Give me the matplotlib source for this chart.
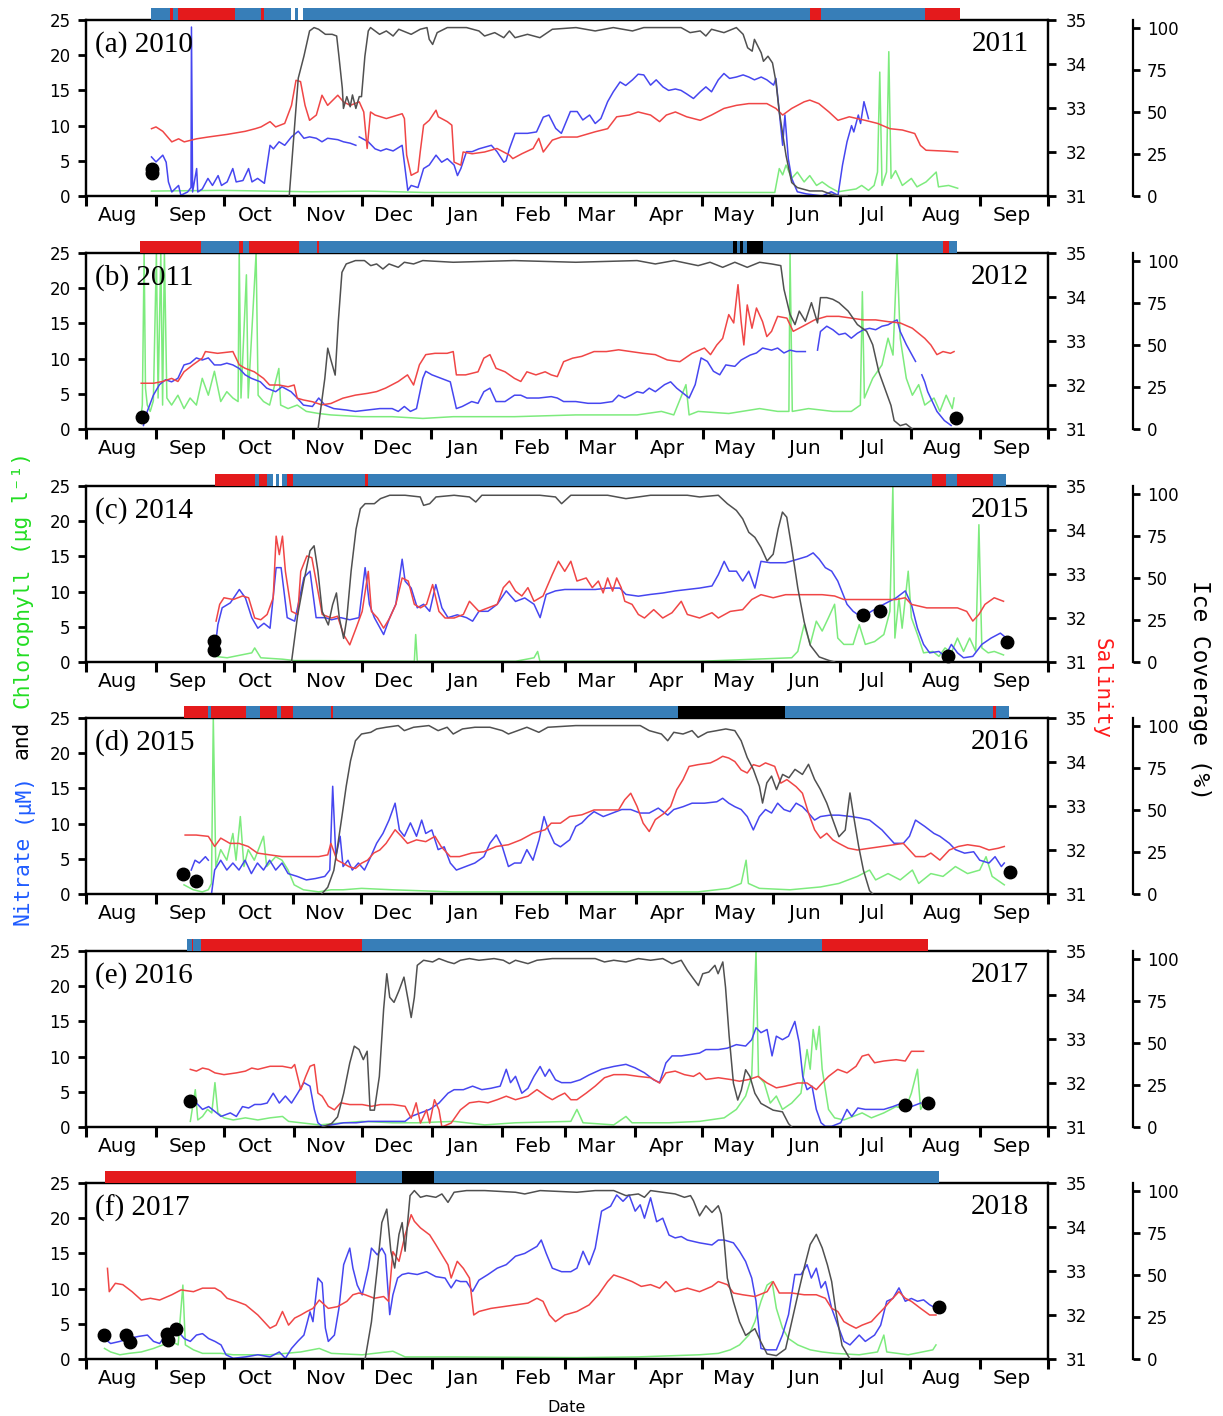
import numpy as np
import matplotlib
matplotlib.use('Agg')
import matplotlib.pyplot as plt
import matplotlib.dates as mdates
from matplotlib.ticker import NullFormatter

nan = float('nan')

# days since 1 Aug of the first year, value
years = [2010, 2011, 2014, 2015, 2016, 2017]
labels = ['(a)', '(b)', '(c)', '(d)', '(e)', '(f)']

## PANEL A ##
a_ice = [(90,0),(94,70),(96.5,83),(99,98),(101,100),(103,99),(106,96),(109,96),(111,95),(112,83),(113.5,64),(114,52),(115.5,59),(117,53),(118,60),(119.5,52),(121,59),(122,59),(123.5,83),(125,98),(126,100),(130,96),(133,98),(136,95),(138.5,99),(144,96),(148,99),(151,100),(152,93),(153.5,90),(155.5,97),(160,100),(168.5,100),(174,98),(176.5,95),(181,97),(185,94),(187.5,98),(190,94),(195.5,96),(201,94),(206.5,99),(217,100),(225.5,98),(233.5,100),(242,98),(247,100),(263.5,100),(267.5,97),(272,98),(274.5,95),(277,99),(282.5,97),(288,100),(291,96),(293,88),(295,86),(296,93),(299,85),(300,80),(302,83),(304,79),(305.5,68),(307,50),(310,24),(312.5,8),(315,5),(320.5,3),(326,3),(330,1),(334,0),(337,0)]
a_sal = [(29,32.53),(31,32.57),(34,32.47),(38,32.23),(41,32.3),(43.5,32.23),(49,32.3),(54,32.34),(62.5,32.4),(70.5,32.47),(75,32.53),(77.5,32.57),(81.5,32.69),(84,32.57),(88,32.65),(91,33.06),(93,33.63),(95,33.6),(97,33.06),(99,32.72),(102,32.84),(104.5,33.29),(107,33.06),(111.5,33.29),(114,33.14),(117,33.06),(121,33.14),(123,32.91),(124.5,32.08),(126,32.91),(128,32.84),(133,32.76),(140,32.87),(141,32.76),(142,31.93),(144,31.47),(147,31.55),(148,32.0),(149.5,32.61),(152,32.72),(155,32.95),(156,32.8),(160,32.69),(162,32.61),(163,31.77),(166,31.7),(167,32.0),(171,31.96),(176.5,32.0),(182,32.08),(187.5,31.93),(189,31.85),(193,31.96),(198,32.08),(200.5,32.31),(202.5,32.0),(206.5,32.27),(210.5,32.34),(217.5,32.34),(225.5,32.46),(231,32.53),(235,32.8),(240.5,32.84),(244.5,32.91),(250,32.84),(254,32.69),(257,32.84),(261,32.91),(266,32.8),(272,32.72),(277,32.84),(282.5,32.99),(288,33.06),(293.5,33.1),(301.5,33.1),(305.5,32.99),(308.5,32.84),(312.5,32.99),(318,33.14),(320.5,33.18),(324.5,33.1),(329,32.91),(333,32.72),(338,32.8),(345,32.72),(350.5,32.65),(356,32.53),(361.5,32.5),(367,32.42),(369.5,32.15),(372,32.04),(380.5,32.02),(386,32.0)]
a_no3 = [(29,5.55),(31,4.84),(34,5.8),(35.5,4.8),(36.5,2.0),(38,0.57),(41,1.5),(42,0.1),(45,0.57),(46.5,1.2),(46.7,24),(47.2,0.57),(49,3.9),(49.5,0.57),(51.5,1.0),(54,2.5),(56,1.5),(58.5,2.9),(60,1.5),(62.5,2.0),(65,3.9),(66.5,2.0),(69.5,2.2),(72,3.9),(73.5,2.0),(76,2.5),(79,1.8),(81.5,7.2),(83,6.7),(85.5,7.7),(88,7.2),(91,8.4),(94,9.2),(96.5,8.2),(99,8.4),(102,8.2),(104.5,7.7),(107,8.2),(111.5,8.0),(114,7.7),(117,7.5),(119.5,7.2),(120.3,nan),(121,8.4),(125,7.7),(128,6.7),(130.5,6.4),(133,6.7),(136,6.4),(140,7.2),(141.5,3.4),(142.5,0.8),(144,1.5),(147,1.2),(149.5,3.9),(152,4.4),(155,5.8),(157.5,4.8),(160,5.3),(163,4.4),(164.5,2.9),(166,3.9),(168.5,6.3),(171,6.3),(174,6.7),(179.5,7.2),(182,6.3),(185,4.8),(186,5.0),(187.5,6.7),(190,8.9),(195.5,8.9),(199.5,9.1),(202.5,11.2),(205,11.5),(208,9.6),(210.5,8.9),(214.5,12),(217.5,12),(220,10.8),(223,11.5),(225.5,10.3),(228,11.0),(231,13.4),(233.5,14.8),(236.5,16.2),(239,15.7),(242,16.5),(244.5,17.3),(247,17.2),(250,15.75),(252.5,16.5),(255.5,15.5),(258,15.0),(261,15.2),(263.5,15.0),(266,14.5),(269,13.85),(272,14.8),(274.5,15.5),(277,14.8),(280,16.5),(282.5,17.4),(285,16.7),(288,16.9),(291,17.2),(293.5,16.9),(296,16.5),(299,16.9),(301.5,16.5),(304.5,15.75),(305.5,16.7),(307,12),(308.5,7.2),(309.5,11.5),(311,5.3),(312.5,2.5),(315,0.6),(319,0.3),(326,0),(330,0.6),(333,0.1),(335,4.4),(337,7.7),(339,10),(340,9.1),(342,11.5),(343,10.3),(344.5,13.4),(346.5,11.0)]
a_chl = [(29,0.7),(60,0.8),(100,0.6),(125,0.7),(150,0.5),(200,0.5),(250,0.5),(300,0.5),(305,0.5),(307,3.9),(308.5,3.0),(310,4.4),(312.5,2.5),(315,3.4),(318,2.0),(320.5,2.9),(323.5,1.5),(326,2.0),(329,1.3),(333,0.6),(337,0.8),(341,1.0),(343.5,1.5),(346.5,0.8),(349,1.5),(350.5,3.4),(351.5,17.6),(352.5,1.5),(354.5,3.4),(355.5,20.5),(356.5,2.5),(358.5,3.6),(361.5,1.5),(365.5,2.5),(368,1.3),(372,2.0),(376.5,3.4),(377.5,1.3),(382,1.5),(386,1.1)]
a_dots = [(29.2,3.9),(29.2,3.2)]
a_bar = [(29,37,'b'),(37,38.6,'r'),(38.6,40.8,'b'),(40.8,65.8,'r'),(65.8,77.4,'b'),(77.4,78.8,'r'),(78.8,91,'b'),(91,92.4,'w'),(92.4,93.8,'b'),(93.8,96,'w'),(96,320.7,'b'),(320.7,325.3,'r'),(325.3,371.5,'b'),(371.5,387.2,'r')]

## PANEL B ##
b_ice = [(103,0),(106,30),(107.3,48),(108.7,41),(110.6,32),(112,64),(113.6,93),(115.5,98),(119.6,100),(123.6,100),(126.4,97),(129,98),(131.8,95),(134.5,98),(138.6,96),(141.3,99),(145.4,98),(149.5,100),(163,99),(190,100),(217.4,99),(244.6,100),(252.7,98),(261,100),(271.7,97),(277,99),(282.6,96),(288,99),(293.5,96),(299,99),(304.3,98),(308.4,97),(309.8,83),(312.5,68),(314.7,62),(316.6,70),(319.3,64),(322,75),(324.7,63),(326,78),(328.8,78),(331.5,77),(334.2,75),(338.3,70),(342.4,62),(346.5,58),(349.2,50),(351.9,34),(354.6,24),(357.3,14),(358.7,5),(361.4,2),(364,3),(366.8,0)]
b_sal = [(24.5,32.04),(30,32.04),(34,32.08),(38,32.15),(40.8,32.08),(43.5,32.3),(47.5,32.46),(51.6,32.61),(53,32.76),(58.4,32.72),(65.2,32.76),(68,32.46),(70.6,32.38),(74.7,32.3),(78.8,32.15),(81.5,32.0),(85.6,32.0),(89.7,31.96),(92.4,32.0),(93.75,31.7),(96.5,31.66),(100.5,31.62),(104.6,31.55),(108.7,31.58),(114,31.7),(119.6,31.77),(125,31.81),(129,31.85),(133,31.93),(138.6,32.08),(142.7,32.23),(145.4,32.0),(148,32.46),(150.8,32.69),(154.9,32.72),(160.3,32.72),(163,32.76),(164.4,32.23),(168.5,32.23),(174,32.3),(176.6,32.61),(179.3,32.69),(182,32.38),(186,32.3),(190.2,32.15),(193,32.08),(195.7,32.3),(199.7,32.23),(203.8,32.3),(206.5,32.23),(209.2,32.19),(212,32.53),(216,32.61),(220,32.65),(225.5,32.76),(231,32.76),(236.4,32.8),(241.8,32.76),(247.3,32.72),(252.7,32.69),(258,32.57),(263.6,32.53),(269,32.72),(274.5,32.84),(277.2,32.69),(280,32.91),(282.6,33.06),(285.3,33.6),(287.5,33.41),(289.4,34.28),(290.8,33.44),(292,32.91),(293.5,33.82),(295.6,33.29),(297.6,33.75),(300.3,33.44),(302.2,33.1),(304.3,33.22),(307,33.56),(311.1,33.52),(313.9,33.22),(318,33.33),(323.4,33.48),(328.8,33.56),(334.2,33.56),(339.7,33.52),(345.1,33.48),(350.5,33.48),(356,33.44),(361.4,33.41),(366.8,33.29),(372.3,33.06),(375,32.91),(377.7,32.69),(380.4,32.76),(383.7,32.72),(385.3,32.76)]
b_no3 = [(25.5,0.5),(27.2,2.5),(29.9,4.8),(32.6,6.3),(35.3,7.0),(38,6.7),(40.8,7.2),(43.5,9.1),(46.2,9.35),(49,10.1),(51.6,9.8),(54.3,10.1),(57,9.1),(59.8,9.1),(62.5,9.35),(65.2,9.1),(68,8.6),(70.6,7.7),(73.4,7.2),(77.4,6.7),(80.2,5.8),(84.2,5.3),(87,6.0),(91,5.3),(93.75,4.4),(96.5,3.4),(100.5,3.2),(103.3,4.4),(106,3.4),(110,2.9),(115.5,2.7),(119.6,2.5),(125,2.7),(130.4,2.9),(135.9,2.9),(138.6,2.5),(141.3,3.2),(144,2.5),(146.7,2.9),(149.5,7.2),(150.8,8.2),(153.5,7.7),(157.6,7.2),(161.7,6.7),(164.4,2.9),(167,3.2),(171.2,3.9),(174,3.65),(176.6,5.3),(179.3,5.8),(182,3.9),(186,3.9),(190.2,4.8),(193,4.8),(195.7,4.4),(201,4.4),(206.5,4.6),(209.2,4.4),(212,3.9),(217.4,3.9),(222.8,3.65),(228.3,3.65),(233.7,3.9),(236.4,4.8),(239.1,4.4),(241.8,4.8),(244.6,5.3),(247.3,5.1),(250,5.8),(252.7,5.3),(256.8,6.3),(259.5,6.7),(262.2,5.8),(265,5.1),(267.7,4.4),(270.4,6.3),(273,10.1),(275.8,9.6),(278.5,8.2),(281.3,7.7),(284,9.1),(288,8.9),(290.8,9.8),(294.8,10.5),(297.6,10.8),(300.3,11.5),(304.3,11.2),(307,11.5),(309.8,10.8),(312.5,11.2),(315.2,11.0),(319.3,11.0),(321,nan),(324.7,11.2),(326,13.85),(328.8,14.6),(331.5,14.1),(334.2,13.4),(337,13.6),(339.7,12.9),(342.4,13.6),(345.1,14.1),(347.8,14.3),(350.5,14.1),(353.3,14.6),(356,14.8),(358.7,15.3),(360,15.5),(361.4,13.85),(364.1,12),(368.2,9.6),(369.5,nan),(371,7.7),(372.3,6.7),(373.6,5.3),(376.4,3.4),(377.7,2.5),(381,1.2),(384,0.5)]
b_chl = [(24.5,2.0),(25,3.4),(25.8,25),(26.4,5.8),(27.2,3.4),(28.5,2.5),(29.9,4.0),(31.25,25),(32,4.4),(33.2,25),(34,3.4),(34.8,25),(35.9,4.4),(38,3.4),(40.8,4.8),(43.5,2.9),(46.2,4.4),(49,3.4),(51.6,7.2),(54.3,4.8),(57,8.2),(59.8,3.9),(62.5,5.3),(65.2,4.4),(67.5,3.9),(68,25),(68.8,4.4),(71.2,21.9),(72,4.4),(75.5,25),(76.4,4.8),(78.8,3.9),(81.5,3.4),(85.6,8.6),(86.4,3.4),(89.7,2.9),(93.75,3.4),(97.8,2.5),(103.3,2.2),(108.7,2.0),(122.3,1.75),(135.9,1.75),(149.5,1.5),(163,1.75),(190.2,1.75),(217.4,2.0),(244.6,2.0),(255.4,2.5),(260.9,2.0),(266.3,6.3),(267.7,2.0),(271.7,2.5),(285.3,2.2),(299,2.9),(307,2.5),(312,2.5),(312.5,25),(313.5,2.5),(320.7,2.9),(331.5,2.5),(339.7,2.5),(343.7,3.4),(344.6,19.5),(345.5,4.4),(349.2,7.2),(353.3,9.1),(356,12.9),(358.2,10.5),(360,25),(361.4,12.9),(364.1,7.2),(366.8,4.8),(369.6,6.3),(372.3,3.4),(376.4,4.4),(379,2.5),(381.8,4.8),(384.5,2.9),(385.3,4.4)]
b_dots = [(24.8,1.7),(386,1.6)]
b_bar = [(24,51,'r'),(51,68,'b'),(68,69.5,'r'),(69.5,72.3,'b'),(72.3,94.6,'r'),(94.6,102.7,'b'),(102.7,103.5,'r'),(103.5,287.2,'b'),(287.2,288.9,'k'),(288.9,290.2,'b'),(290.2,291.8,'k'),(291.8,293.5,'b'),(293.5,300.3,'k'),(300.3,380.4,'b'),(380.4,383.2,'r'),(383.2,386.4,'b')]

## PANEL C ##
c_ice = [(91,0),(93.75,28),(96.5,48),(99.2,66),(101,69),(102.7,54),(104.6,30),(107.3,22),(109.2,34),(110.9,41),(112.2,26),(114.1,14),(115.5,26),(117.4,54),(119.6,79),(121.5,91),(123.6,94),(127.7,94),(130.4,97),(134.5,99),(141.3,99),(148,98),(149.5,93),(152.2,94),(155,98),(163,99),(169.8,98),(172.6,95),(175.3,99),(190.2,99),(201,99),(207.9,98),(210.6,94),(214.7,99),(231,99),(239.1,97),(244.6,98),(250,99),(266.3,99),(271.7,98),(280,99),(284,94),(288,90),(290.8,85),(293.5,77),(296.2,74),(298.9,68),(301.6,60),(304.3,64),(306.5,79),(308.4,89),(310.3,86),(312.5,68),(315.2,44),(318,24),(320.7,10),(324.7,3),(328.8,1),(331.5,0)]
c_sal = [(57.6,31.93),(59.2,32.31),(61.1,32.46),(65.2,32.42),(69.3,32.5),(72,32.46),(74.7,32.0),(77.4,31.96),(80.2,32.08),(82.9,32.46),(84.2,33.86),(85.6,33.44),(87,33.86),(88.3,33.06),(91,32.15),(93.75,32.08),(95.1,33.06),(97.8,33.41),(100,33.37),(101.9,32.84),(104.6,32.08),(108.7,32.0),(111.4,32.04),(114.1,31.62),(116.8,31.39),(119.6,31.77),(122.3,32.15),(125,33.06),(126.4,32.15),(129.1,32.0),(131.8,31.77),(134.5,32.0),(137.2,32.31),(140,32.91),(142.7,32.84),(145.4,32.31),(148.1,32.23),(150.8,32.31),(153.5,32.76),(156.3,32.15),(159,32.0),(163,32.0),(167.1,32.08),(169.8,32.38),(174,32.15),(178,32.23),(182.1,32.31),(184.8,32.69),(187.5,32.84),(190.2,32.61),(193,32.5),(195.7,32.69),(198.4,32.38),(202.4,32.5),(206.5,32.99),(209.2,33.29),(212,33.06),(214.7,33.29),(217.4,32.84),(221.5,32.91),(224.2,32.69),(226.9,32.84),(229,32.57),(231,32.91),(233.2,32.61),(235,32.91),(237,32.69),(238.6,32.38),(241.8,32.31),(244.6,32.08),(247.3,32.0),(251.4,32.19),(255.4,32.0),(259.5,32.12),(263.6,32.38),(266.3,32.08),(271.7,32.0),(277.2,32.12),(280,32.0),(285.3,32.15),(290.8,32.19),(294.8,32.42),(298.9,32.53),(304.3,32.46),(309.8,32.53),(318,32.53),(326,32.53),(331.5,32.5),(335.6,32.42),(342.4,32.42),(350.5,32.42),(358.7,32.42),(362.8,32.46),(365.5,32.31),(372.3,32.23),(377.7,32.23),(385.9,32.23),(390,32.15),(392.7,31.93),(395.4,32.08),(398.1,32.31),(402.2,32.46),(406.3,32.38)]
c_no3 = [(57,1.5),(58.4,5.3),(60.3,7.7),(63.9,8.4),(67.9,10.3),(70.6,9.1),(73.4,6.3),(76.1,4.8),(78.8,5.5),(81.5,4.8),(84.2,13.4),(86.4,13.4),(89.1,6.3),(92.4,5.8),(96.5,12),(99.2,12.9),(101.9,6.3),(106,6.3),(108.7,6.0),(112.8,6.3),(116.8,6.0),(120.9,6.3),(123.6,13.4),(125.5,8.2),(127.7,6.3),(131.8,3.9),(134.5,6.3),(137.2,8.2),(140,14.6),(141.3,11.5),(144,10.5),(146.7,7.7),(149.5,8.2),(152.2,7.2),(154.9,11.0),(157.6,7.7),(160.3,6.3),(164.4,6.7),(168.5,6.3),(171.2,5.8),(174,7.2),(178,7.2),(182.1,8.2),(186.1,10.1),(190.2,8.6),(194.3,9.1),(198.4,8.2),(201.1,6.3),(203.8,9.6),(207.9,10.1),(212,10.3),(217.4,10.3),(225.5,10.3),(231,10.5),(236.4,10.5),(239.1,9.6),(244.6,9.35),(250,9.6),(255.4,9.8),(261,10.1),(266.3,10.3),(271.7,10.5),(277.2,10.8),(280,12.4),(282.6,14.3),(284.8,12.9),(288,12.9),(290.8,11.5),(293.5,12.9),(296.2,10.5),(298.9,14.3),(303,14.1),(309.8,14.1),(315.2,14.6),(319.3,15.0),(322,15.5),(324.7,14.6),(327.4,13.4),(330.2,12.9),(332.9,11.5),(337,8.2),(339.7,7.2),(343.7,6.3),(347.8,7.2),(353.3,8.2),(358.7,9.1),(362.8,10.1),(365.5,8.2),(368.2,4.8),(370.9,2.5),(373.6,1.3),(377.7,1.5),(380.4,0.8),(383.2,2.5),(385.9,1.3),(388.6,0.6),(392.7,0.8),(396.7,2.5),(400.8,3.4),(404.9,4.1),(407.6,3.4)]
c_chl = [(57,0.8),(62.5,0.6),(73.4,1.3),(74.7,2.0),(77.4,0.6),(87,0.4),(92.4,0.2),(103.3,0.2),(145.4,0.1),(146,3.9),(146.7,0.1),(190.2,0.1),(198.4,0.6),(200,1.5),(201,0.1),(271.7,0.1),(312.5,0.6),(315.2,1.5),(316.6,3.4),(318,5.3),(320.7,2.5),(323.4,5.8),(326,4.4),(328.8,6.3),(331.5,8.2),(332.9,3.4),(335.6,2.5),(339.7,2.5),(342.4,5.3),(345.1,2.5),(349.2,2.9),(353.3,3.9),(356,7.2),(357.3,25),(358.2,3.4),(360,9.1),(361.4,4.8),(364.1,12.9),(365.5,6.3),(368.2,3.9),(370.9,1.3),(375,1.5),(377.7,0.8),(380.4,2.0),(383.2,1.3),(385.9,3.4),(388.6,1.5),(391.3,3.4),(394,1.5),(395.4,19.5),(396.7,2.0),(399.5,1.3),(402.2,1.5),(406.3,1.0)]
c_dots = [(56.7,3.0),(56.7,1.7),(344,6.7),(351.6,7.3),(381.7,0.85),(408,2.9)]
c_bar = [(57,74.7,'r'),(74.7,76.6,'b'),(76.6,80.2,'r'),(80.2,82.9,'b'),(82.9,84.2,'w'),(84.2,85.6,'b'),(85.6,87,'w'),(87,89.1,'b'),(89.1,91.8,'r'),(91.8,123.6,'b'),(123.6,125,'r'),(125,374.5,'b'),(374.5,381,'r'),(381,385.9,'b'),(385.9,401.6,'r'),(401.6,407.6,'b')]

## PANEL D ##
d_ice = [(104.6,0),(107.3,4),(110,14),(111.4,26),(113.6,46),(115.5,64),(117.4,79),(119.6,91),(122.3,95),(126.4,96),(129,98),(133.2,99),(138.6,100),(141.3,97),(145.4,99),(152.2,100),(156.3,97),(160.3,99),(163,95),(167.1,98),(172.6,99),(179.3,99),(184.8,97),(187.5,95),(191.6,97),(195.7,99),(201,96),(205,99),(217.4,100),(246,100),(250,97),(255.4,95),(258.2,91),(260.9,96),(265,95),(269,97),(271.7,93),(275.8,96),(280,97),(284,98),(288,97),(290.8,91),(293.5,81),(296.2,74),(298.9,64),(300.3,54),(302.2,66),(304.3,70),(306.5,62),(309.2,71),(312,69),(314.7,74),(318,71),(320.7,77),(323.4,68),(326,62),(328.8,54),(331.5,44),(334.2,34),(337,38),(339.1,60),(341,44),(343,28),(345.1,14),(347.8,2),(349.2,0)]
d_sal = [(44,32.34),(48.9,32.34),(54.3,32.31),(57.1,32.08),(59.8,32.27),(63.9,32.15),(67.9,32.15),(72,32.08),(76.1,31.93),(81.5,31.89),(87,31.85),(92.4,31.85),(97.8,31.85),(103.3,31.85),(107.3,31.89),(108.7,32.15),(111.4,31.77),(114.1,31.7),(116.8,31.62),(119.6,31.58),(122.3,31.7),(125,31.77),(127.7,31.93),(130.4,32.0),(133.2,32.15),(137.2,32.46),(140,32.31),(142.7,32.15),(146.7,32.23),(150.8,32.19),(154.9,32.31),(157.6,32.08),(161.7,31.85),(165.8,31.85),(171.2,31.93),(176.6,31.96),(182.1,32.08),(187.5,32.12),(193,32.23),(198.4,32.38),(203.8,32.46),(206.5,32.61),(210.6,32.61),(214.7,32.76),(220.1,32.8),(225.5,32.91),(231,32.91),(236.4,32.91),(239.1,33.14),(241.8,33.29),(244.6,32.99),(247.3,32.61),(250,32.42),(252.7,32.69),(256.8,32.84),(259.5,32.99),(262.2,33.37),(265,33.6),(267.7,33.9),(271.7,33.94),(277.2,33.98),(280,34.05),(282.6,34.13),(285.3,34.09),(288,34.01),(290.8,33.82),(293.5,33.75),(296.2,33.94),(298.9,33.9),(301.6,33.98),(305.7,33.9),(308.4,33.52),(311.1,33.6),(315.2,33.44),(318,33.29),(320.7,32.84),(323.4,32.46),(326,32.27),(328.8,32.38),(331.5,32.23),(334.2,32.15),(338.3,32.04),(342.4,32.0),(347.8,32.04),(353.3,32.08),(358.7,32.12),(362.8,32.15),(365.5,32.0),(368.2,31.85),(372.3,31.85),(375,31.93),(379,31.77),(383.2,32.0),(387.2,32.08),(391.3,32.12),(396.7,32.08),(400.8,32.0),(404.9,32.04),(407.6,32.08)]
d_no3 = [(46.7,3.4),(48.4,4.8),(50.3,4.4),(53,5.3),(54.3,4.8),(55,nan),(55.7,0),(57.1,3.4),(59.8,4.8),(62.5,3.4),(65.2,4.4),(67.9,3.4),(70.6,4.8),(73.4,2.9),(76.1,4.4),(78.8,3.4),(81.5,4.8),(84.2,3.4),(87,4.4),(89.7,2.9),(93.75,2.5),(97.8,2.0),(101.9,2.2),(106,2.5),(108.2,3.4),(109.5,15.3),(110.9,5.3),(112.8,8.2),(114.1,3.9),(116.3,4.8),(118.2,3.4),(120.9,4.4),(123.6,3.4),(126.4,5.3),(129,7.2),(131.8,8.6),(134.5,10.5),(137.2,12.9),(139.1,9.1),(141.3,8.2),(144,10.1),(146.7,8.2),(149,10.5),(150.8,8.6),(153.5,9.1),(156.3,6.3),(159,6.7),(161.7,4.4),(164.4,3.4),(168.5,3.9),(172.6,4.4),(176.6,5.3),(179.3,7.2),(182.1,8.4),(184.8,6.7),(187.5,3.9),(190.2,4.4),(193,4.4),(195.7,6.3),(198.4,4.8),(201.1,7.7),(203.3,11.0),(205.2,9.1),(207.9,7.2),(210.6,6.7),(214.7,7.7),(217.4,9.6),(220.1,10.1),(222.8,11.0),(225.5,11.7),(229.6,11.0),(233.7,11.5),(237.8,12.0),(241.8,12.0),(245.9,11.5),(250,11.5),(254,12.2),(258.2,11.2),(260.9,12.0),(265,12.4),(269,12.9),(274.5,12.9),(280,13.1),(282.6,13.6),(285.3,12.9),(288,12.4),(290.8,12.0),(293.5,11.0),(296.2,9.1),(298.9,11.0),(301.6,12.0),(304.3,11.5),(307,12.9),(309.8,12.0),(312.5,11.7),(315.2,12.9),(318,12.4),(320.7,11.5),(323.4,10.5),(326,11.0),(330.2,11.2),(334.2,11.2),(339.7,11.0),(343.7,10.8),(347.8,10.5),(353.3,9.1),(358.7,7.2),(362.8,7.2),(365.5,8.2),(368.2,10.5),(372.3,9.6),(376.4,8.6),(379,8.2),(383.2,7.2),(385.9,6.3),(390,5.8),(394,6.0),(396.7,4.8),(400.8,4.4),(403.5,5.3),(406.3,3.9),(407.6,4.4)]
d_chl = [(43.5,1.3),(47.6,0.6),(51.6,0.3),(54.3,0.6),(55.7,1.5),(56.5,25),(57.6,3.9),(59.8,6.3),(62.5,4.8),(65.2,8.6),(66.6,4.8),(68.5,11.0),(70.1,3.9),(72,6.3),(74.7,4.8),(78.8,8.2),(80.2,3.9),(84.2,5.3),(87,4.8),(89.7,3.4),(92.4,1.3),(96.5,0.6),(103.3,0.3),(108.7,0.6),(114.1,0.6),(122.3,0.8),(135.9,0.6),(163,0.3),(190.2,0.3),(217.4,0.3),(244.6,0.3),(271.7,0.3),(285.3,0.8),(290.8,1.5),(293,4.8),(294,1.5),(298.9,0.8),(312.5,0.6),(326,1.0),(334.2,1.5),(342.4,2.5),(347.8,3.4),(350.5,2.0),(356,2.9),(361.4,2.0),(366.8,3.4),(369.6,1.5),(375,2.9),(380.4,2.5),(385.9,3.9),(391.3,2.9),(396.7,3.4),(399.5,5.3),(402.2,2.5),(407.6,1.3)]
d_dots = [(43,2.8),(48.7,1.85),(410,3.1)]
d_bar = [(43.5,54.3,'r'),(54.3,55.7,'b'),(55.7,71.2,'r'),(71.2,77.4,'b'),(77.4,85,'r'),(85,86.4,'b'),(86.4,91.8,'r'),(91.8,108.7,'b'),(108.7,109.8,'r'),(109.8,262.8,'b'),(262.8,310.3,'k'),(310.3,402.7,'b'),(402.7,403.8,'r'),(403.8,409.8,'b')]

## PANEL E ##
e_ice = [(104.6,0),(108.7,2),(111.4,6),(114.1,20),(116.8,38),(118.8,48),(120.9,46),(122.8,40),(124.5,45),(125.8,10),(127.7,10),(129.9,30),(131.8,70),(133.2,91),(134.5,77),(136.4,74),(138.6,81),(140.8,89),(142.7,75),(144,65),(145.4,77),(146.7,96),(149.5,99),(153.5,98),(156.3,100),(160.3,98),(163,97),(165.8,99),(169.8,100),(174,99),(180.7,100),(184.8,99),(187.5,97),(190.2,99),(195.7,97),(199.7,99),(206.5,100),(225.5,100),(229.6,98),(233.7,99),(239.1,98),(244.6,100),(250,99),(255.4,100),(259.5,97),(263.6,99),(266.3,93),(269,88),(271.2,84),(273.1,91),(275.8,92),(278.5,96),(279.9,91),(282,98),(283.2,83),(284.8,54),(286.7,26),(288.6,16),(290.2,22),(292.1,34),(294,30),(296.2,20),(298.9,14),(301.6,12),(304.3,10),(308.4,9),(311.1,2),(312.5,0)]
e_sal = [(46.2,32.31),(48.9,32.27),(51.6,32.34),(54.3,32.31),(57.1,32.23),(61.1,32.19),(66.6,32.23),(70.6,32.27),(73.4,32.34),(76.1,32.31),(81.5,32.38),(87,32.38),(91,32.34),(92.4,32.42),(95.1,31.85),(97.3,32.15),(99.2,32.38),(101.1,32.42),(102.7,31.77),(104.6,31.7),(107.3,31.47),(110,31.39),(112.8,31.55),(116.8,31.51),(122.3,31.51),(126.4,31.47),(130.4,31.51),(135.9,31.51),(141.3,31.47),(144,31.2),(146.2,31.55),(148.1,31.09),(150.8,31.39),(152.2,31.09),(154.3,31.62),(156.3,31.39),(157.6,31.0),(161.7,31.09),(165.8,31.39),(169.8,31.55),(174,31.58),(178,31.55),(182.1,31.62),(186.1,31.7),(190.2,31.62),(195.7,31.7),(199.7,31.85),(203.8,31.7),(206.5,31.62),(209.2,31.7),(212,31.77),(214.7,31.62),(217.4,31.62),(221.5,31.77),(225.5,31.93),(229.6,32.12),(233.7,32.19),(239.1,32.19),(244.6,32.15),(250,32.12),(254,32.0),(256.8,32.23),(260.9,32.27),(265,32.19),(269,32.15),(271.7,32.23),(274.5,32.08),(280,32.12),(285.3,32.08),(289.4,32.04),(293.5,32.08),(297.6,32.15),(301.6,32.0),(305.7,31.89),(309.8,31.93),(315.2,32.0),(319.3,32.0),(323.4,31.85),(326,32.0),(328.8,32.15),(332.9,32.31),(337,32.23),(341,32.38),(343.7,32.61),(346.5,32.65),(349.2,32.46),(353.3,32.5),(358.7,32.53),(362.8,32.5),(365.5,32.72),(370.9,32.72)]
e_no3 = [(46.2,3.9),(48.9,3.4),(51.6,2.5),(54.3,2.9),(57.1,2.2),(59.8,1.5),(63.9,2.0),(66.6,1.5),(69.3,2.9),(72,2.7),(74.7,3.2),(77.4,3.2),(80.2,3.4),(82.9,4.8),(85.6,3.4),(88.3,4.4),(91,3.4),(93.75,4.8),(96.5,6.3),(99.2,5.8),(101.1,2.5),(102.7,0.6),(104.6,0.1),(108.7,0.3),(114.1,0.6),(119.6,0.6),(125,0.8),(135.9,0.8),(141.3,0.8),(144,1.5),(148.1,2.0),(152.2,2.5),(156.3,3.4),(160.3,4.8),(163,5.3),(167.1,5.3),(171.2,5.8),(175.3,5.3),(179.3,5.5),(183.4,5.8),(186.1,8.2),(188,6.3),(190.2,7.2),(193,4.8),(195.7,5.5),(198.4,7.2),(201.1,8.6),(203.3,7.2),(205.2,8.2),(207.9,6.7),(210.6,6.3),(214.7,6.3),(218.8,6.7),(222.8,7.4),(228.3,8.2),(233.7,8.6),(239.1,8.9),(243.2,8.4),(247.3,7.7),(251.4,6.7),(254,6.3),(256.8,9.1),(259.5,10.1),(263.6,10.1),(267.7,10.3),(271.7,10.5),(274.5,11.0),(280,11.0),(284,11.2),(288,11.7),(292.1,11.5),(294.8,12.4),(296.7,14.1),(298.9,13.4),(301.6,13.85),(303.8,10.1),(305.7,12.9),(308.4,12.4),(311.1,12.9),(313.9,15.0),(315.8,12.0),(317.4,7.2),(319.3,5.3),(321.5,5.8),(323.4,2.5),(325.5,0.6),(327.4,0.1),(330.2,0.1),(334.2,0.6),(337,2.5),(339.1,1.5),(341.8,2.7),(345.1,2.5),(349.2,2.5),(353.3,2.5),(357.3,2.9),(361.4,3.4),(365.5,2.9),(369.6,3.4)]
e_chl = [(46.2,0.8),(48.4,5.3),(49.5,1.0),(51.6,1.5),(53.8,2.5),(55.7,2.0),(57.1,6.3),(58.4,2.0),(61.1,1.3),(65.2,1.0),(70.6,1.3),(76.1,1.0),(81.5,1.3),(87,1.5),(89.7,0.8),(95.1,0.6),(103.3,0.3),(114.1,0.6),(122.3,0.8),(135.9,0.6),(146.7,0.6),(163,0.8),(176.6,0.3),(190.2,0.6),(214.7,0.8),(217.4,2.5),(220.1,0.6),(233.7,0.3),(239.1,1.5),(241.8,0.6),(258.2,0.6),(271.7,0.8),(282.6,1.3),(288,2.5),(292.1,4.4),(294.8,7.2),(296.7,25),(297.8,7.2),(300.3,6.3),(303,3.4),(305.7,4.4),(308.4,2.5),(312.5,3.4),(316.6,4.8),(319.3,11.0),(320.7,8.2),(322,13.85),(323.4,11.0),(324.7,14.3),(326,8.2),(328.8,2.5),(331.5,1.3),(335.6,1.0),(339.7,1.5),(343.7,2.0),(347.8,1.3),(353.3,2.0),(358.7,2.9),(362.8,2.5),(365.5,4.8),(368.2,8.2),(369.6,2.5),(370.9,3.2)]
e_dots = [(46,3.7),(362.7,3.1),(372.9,3.4)]
e_bar = [(44.8,46.8,'b'),(46.8,47.6,'r'),(47.6,51.1,'b'),(51.1,122.3,'r'),(122.3,326,'b'),(326,372.8,'r')]

## PANEL F ##
f_ice = [(123.6,0),(126.4,22),(129,54),(131,81),(133.2,89),(135,64),(136.7,54),(138.6,74),(140,81),(141.3,64),(143.5,97),(145.4,100),(148.1,96),(150.8,97),(154.9,96),(157.6,98),(160.3,93),(163,99),(168.5,100),(176.6,100),(190.2,99),(194.3,98),(201.1,100),(217.4,99),(225.5,100),(233.7,100),(239.1,97),(244.6,98),(247.3,96),(250,100),(255.4,99),(260.9,98),(265,96),(267.7,97),(269,94),(271.7,85),(274.5,91),(277.2,87),(280,91),(281.3,86),(282.6,70),(284,48),(286.7,34),(289.4,22),(292.1,14),(296.2,18),(298.9,10),(301.6,3),(305.7,2),(309.8,6),(312.5,22),(315.2,38),(318,54),(320.7,68),(323.4,74),(326,66),(328.3,56),(330.2,46),(332.1,28),(334.8,8),(338.3,0)]
f_sal = [(9.5,33.06),(10.3,32.53),(13,32.72),(16.3,32.69),(20.4,32.53),(24.5,32.34),(28.5,32.38),(32.6,32.34),(38,32.46),(42.1,32.57),(47.6,32.53),(51.6,32.61),(57.1,32.61),(59.8,32.53),(62.5,32.38),(66.6,32.31),(70.7,32.23),(76.1,32.0),(78.8,31.85),(81.5,31.7),(84.2,31.77),(87,32.08),(89.7,31.77),(92.4,31.93),(95.1,32.0),(97.8,32.08),(100.5,32.15),(103.3,32.34),(107.3,32.15),(111.4,32.19),(115.5,32.31),(118.2,32.46),(120.9,32.5),(123.6,32.46),(127.7,32.38),(131.8,32.42),(134,32.31),(135.9,33.44),(138.6,33.22),(141.3,33.82),(144,34.28),(145.4,34.13),(148.1,33.98),(152.2,33.82),(154.9,33.6),(157.6,33.37),(160.3,33.14),(161.7,32.84),(164.4,33.22),(167.1,33.06),(169.8,32.84),(171.7,32.0),(174,32.08),(179.3,32.15),(184.8,32.19),(190.2,32.23),(195.7,32.27),(199.7,32.38),(202.4,32.31),(205.2,32.0),(207.9,31.85),(212,32.0),(217.4,32.08),(222.8,32.23),(226.9,32.46),(231,32.76),(233.7,32.91),(237.8,32.84),(241.8,32.76),(245.9,32.65),(250,32.69),(254,32.61),(256.8,32.76),(260.9,32.53),(266.3,32.61),(271.7,32.53),(277.2,32.65),(280,32.76),(284,32.69),(286.7,32.5),(290.8,32.46),(296.2,32.42),(301.6,32.53),(304.3,32.76),(307,32.5),(312.5,32.5),(318,32.46),(323.4,32.46),(327.4,32.38),(330.2,32.15),(332.9,32.08),(335.6,31.85),(338.3,31.77),(341,31.7),(343.7,31.77),(347.8,31.85),(350.5,32.0),(353.3,32.15),(356,32.31),(360,32.53),(362.8,32.38),(365.5,32.31),(369.6,32.15),(373.6,32.0),(376.4,32.0)]
f_no3 = [(8.2,2.9),(10.9,2.2),(15,2.5),(19,2.9),(23.1,3.2),(27.2,3.4),(29.9,2.5),(32.6,2.2),(35.3,3.4),(38,4.4),(40.8,3.9),(43.5,2.9),(46.2,2.5),(48.9,3.4),(51.6,3.6),(54.3,2.9),(57.1,2.5),(59.8,2.0),(62,0.6),(65.2,0.1),(70.7,0.3),(76.1,0.6),(81.5,0.3),(85.6,1.0),(88.3,0.1),(91,1.5),(93.75,2.5),(96.5,3.4),(99.2,6.7),(100.5,5.3),(102.7,11.5),(104.6,10.8),(106,4.4),(107.3,2.5),(110,3.4),(112,7.2),(114.1,13.4),(116.8,15.75),(118.2,12.9),(120.1,10.5),(122.3,9.1),(125,12.9),(126.4,15.75),(129,14.8),(131,15.75),(132.6,14.8),(134.5,6.3),(135.9,9.1),(138,11.5),(140,12.0),(142.7,12.2),(146.7,12.0),(150.8,12.4),(154.9,11.7),(159,11.5),(161.7,10.1),(163.9,11.2),(165.8,11.0),(168.5,11.0),(171.2,9.6),(174,11.2),(178,12.0),(182.1,12.9),(186.1,13.4),(190.2,14.6),(194.3,15.0),(197,15.5),(199.7,16.0),(201.6,16.9),(203.8,15.0),(206.5,12.9),(210.6,12.4),(214.7,12.4),(217.4,12.9),(220.1,15.3),(222.8,13.4),(225.5,15.75),(228.3,21),(232.3,21.7),(235,23.3),(237.8,22.4),(240.5,23.3),(243.2,21),(245.4,21.9),(247.3,20),(250,22.9),(252.7,19.5),(255.4,20),(258.2,17.6),(260.9,17.2),(263.6,17.4),(266.3,16.9),(271.7,16.5),(277.2,16.2),(280,16.9),(282.6,16.9),(286.7,16.5),(289.4,15.3),(292.1,13.85),(294.8,11.5),(296.7,8.2),(298.9,1.5),(301.6,1.3),(305.7,1.3),(308.4,3.4),(311.1,6.3),(313.9,12.0),(316.6,12.0),(319.3,13.4),(321.2,11.5),(323.4,12.9),(325.5,10.1),(327.4,11.0),(330.2,7.2),(332.9,4.8),(335.6,2.5),(338.3,2.0),(342.4,3.4),(345.1,2.5),(349.2,3.4),(351.9,4.8),(354.6,8.2),(357.3,8.6),(360,10.1),(362.8,8.2),(365.5,8.6),(368.2,8.2),(370.9,8.4),(373.6,7.7),(376.4,7.2)]
f_chl = [(8.2,1.5),(10.9,1.0),(15,0.6),(19,0.8),(24.5,1.0),(29.9,1.5),(34,2.0),(38,2.5),(40.8,2.0),(42.9,10.5),(44,2.0),(47.6,1.3),(51.6,0.8),(59.8,0.8),(65.2,0.6),(81.5,0.6),(95.1,1.0),(103.3,1.5),(108.7,0.8),(122.3,0.6),(135.9,1.1),(141.3,0.3),(163,0.3),(217.4,0.2),(244.6,0.3),(271.7,0.6),(280,0.8),(285.3,1.3),(289.4,2.0),(293.5,3.4),(296.2,5.3),(298.9,8.2),(301.6,10.5),(303.8,11.0),(305.7,7.2),(308.4,4.4),(311.1,2.9),(315.2,2.0),(320.7,1.3),(326,1.0),(331.5,0.8),(342.4,0.6),(350.5,1.0),(353.3,3.4),(354.6,1.0),(364.1,0.6),(375,1.3),(376.4,2.0)]
f_dots = [(8,3.4),(17.7,3.4),(19.5,2.4),(35.9,3.5),(36.3,2.7),(39.9,4.2),(377.8,7.4)]
f_bar = [(8.2,119.6,'r'),(119.6,140,'b'),(140,154.3,'k'),(154.3,377.7,'b')]

panels = [
    dict(ice=a_ice, sal=a_sal, no3=a_no3, chl=a_chl, dots=a_dots, bar=a_bar),
    dict(ice=b_ice, sal=b_sal, no3=b_no3, chl=b_chl, dots=b_dots, bar=b_bar),
    dict(ice=c_ice, sal=c_sal, no3=c_no3, chl=c_chl, dots=c_dots, bar=c_bar),
    dict(ice=d_ice, sal=d_sal, no3=d_no3, chl=d_chl, dots=d_dots, bar=d_bar),
    dict(ice=e_ice, sal=e_sal, no3=e_no3, chl=e_chl, dots=e_dots, bar=e_bar),
    dict(ice=f_ice, sal=f_sal, no3=f_no3, chl=f_chl, dots=f_dots, bar=f_bar),
]

bar_colors = {'r': '#e41a1c', 'b': '#377eb8', 'k': '#000000', 'w': '#ffffff'}
W, H = 1223, 1416
tops = [20, 253, 486, 718, 951, 1183]
ax_h = 176


def xy(pairs, base):
    arr = np.array(pairs, dtype=float)
    return base + arr[:, 0], arr[:, 1]


fig = plt.figure(figsize=(W/100, H/100), dpi=100)

for i, p in enumerate(panels):
    yr = years[i]
    base = mdates.date2num(np.datetime64('%d-08-01' % yr))
    x_end = mdates.date2num(np.datetime64('%d-10-01' % (yr + 1)))
    top = tops[i]
    ax = fig.add_axes([86/W, 1-(top+ax_h)/H, 962/W, ax_h/H])
    ax2 = ax.twinx()
    ax3 = ax.twinx()

    # lines
    x, y = xy(p['chl'], base)
    ax.plot(x, y, color='#7deb7d', lw=1.1, zorder=2)
    x, y = xy(p['no3'], base)
    ax.plot(x, y, color='#4646f0', lw=1.1, zorder=3)
    x, y = xy(p['dots'], base)
    ax.plot(x, y, 'o', color='k', ms=9, zorder=6, clip_on=False)
    x, y = xy(p['sal'], base)
    ax2.plot(x, y, color='#f04646', lw=1.1)
    x, y = xy(p['ice'], base)
    ax3.plot(x, y, color='#505050', lw=1.1)

    ax.set_xlim(base, x_end)
    ax.set_ylim(0, 25)
    ax2.set_ylim(31, 35)
    ax3.set_ylim(0, 104.5)
    ax.set_yticks([0, 5, 10, 15, 20, 25])
    ax2.set_yticks([31, 32, 33, 34, 35])
    ax3.set_yticks([0, 25, 50, 75, 100])

    ax.xaxis.set_major_locator(mdates.MonthLocator())
    ax.xaxis.set_major_formatter(NullFormatter())
    ax.xaxis.set_minor_locator(mdates.MonthLocator(bymonthday=15))
    ax.xaxis.set_minor_formatter(mdates.DateFormatter('%b'))
    ax.tick_params(axis='x', which='major', direction='out', length=7, width=2.2)
    ax.tick_params(axis='x', which='minor', length=0, pad=7, labelsize=14.5)
    ax.tick_params(axis='y', direction='out', length=6, width=2, labelsize=12, pad=5)
    ax2.tick_params(axis='y', direction='out', length=6, width=2, labelsize=12, pad=7)
    ax3.tick_params(axis='y', direction='out', length=5, width=2, labelsize=12, pad=5)

    for s in ax.spines.values():
        s.set_linewidth(1.6)
    for s in ax2.spines.values():
        s.set_linewidth(1.6)
    ax3.spines['right'].set_position(('axes', 1 + 85/962))
    ax3.spines['right'].set_linewidth(1.6)
    for k in ['top', 'bottom', 'left']:
        ax3.spines[k].set_visible(False)

    ax.text(0.009, 0.935, labels[i] + ' ' + str(yr), transform=ax.transAxes,
            fontsize=21, family='Liberation Serif', va='top', ha='left')
    ax.text(0.98, 0.935, str(yr + 1), transform=ax.transAxes,
            fontsize=21, family='Liberation Serif', va='top', ha='right')

    # status bar above the panel
    bx = fig.add_axes([86/W, 1-top/H, 962/W, 12/H])
    for s0, s1, c in p['bar']:
        bx.broken_barh([(base + s0, s1 - s0)], (0, 1), facecolors=bar_colors[c])
    bx.set_xlim(base, x_end)
    bx.set_ylim(0, 1)
    bx.axis('off')

# axis titles
mono = 'DejaVu Sans Mono'
fs = 15.3
adv = 0.602 * fs * 100 / 72
y0 = 925
pieces = [('Nitrate', '#1f5cff', 0), ('(μM)', '#1f5cff', 8), ('and', 'black', 13),
          ('Chlorophyll', '#22dd22', 17), ('(μg l⁻¹)', '#22dd22', 29)]
for txt, col, idx in pieces:
    fig.text(22/W, 1-(y0 - idx*adv)/H, txt, rotation=90, color=col, family=mono,
             fontsize=fs, ha='center', va='bottom')

fig.text(1102/W, 1-688/H, 'Salinity', rotation=270, color='#ff1a1a', family=mono,
         fontsize=15, ha='center', va='center')
fig.text(1200/W, 1-690/H, 'Ice Coverage (%)', rotation=270, color='black', family=mono,
         fontsize=16.5, ha='center', va='center')
fig.text(567/W, 1-1407/H, 'Date', ha='center', va='center', fontsize=11.5)

plt.savefig('out.png', dpi=100)
